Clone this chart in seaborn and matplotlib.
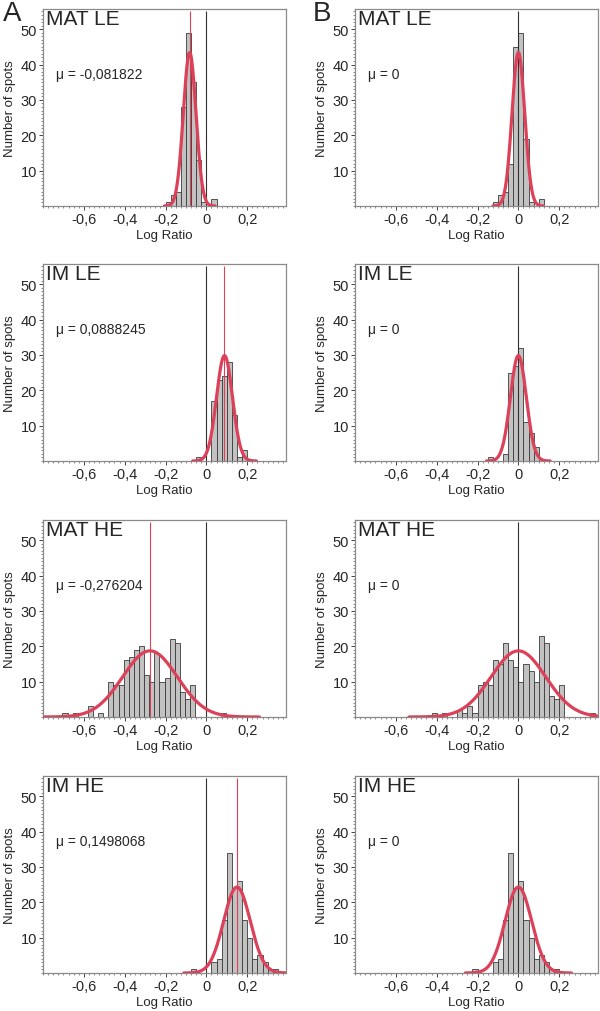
import numpy as np
import pandas as pd
import seaborn as sns
import matplotlib
matplotlib.use('Agg')
import matplotlib.pyplot as plt
from matplotlib.ticker import MultipleLocator, FuncFormatter

sns.set_style('ticks')
plt.rcParams['font.family'] = ['Liberation Sans', 'DejaVu Sans']

BIN_WIDTH = 0.025

titles = ['MAT LE', 'IM LE', 'MAT HE', 'IM HE']

# column A: raw log ratios, column B: centred on 0
mu_a = [-0.081822, 0.0888245, -0.276204, 0.1498068]
mu_a_text = ['-0,081822', '0,0888245', '-0,276204', '0,1498068']
mu_b = [0, 0, 0, 0]
mu_b_text = ['0', '0', '0', '0']

# fitted normal curves
sigma = [0.031, 0.039, 0.134, 0.065]
peak = [43.4, 29.8, 18.7, 24.3]

# histogram counts, left edge of the first bin
a_mat_le_start = -0.2
a_mat_le = [1, 3, 4, 28, 49, 35, 13, 1, 0, 2]
b_mat_le_start = -0.125
b_mat_le = [1, 3, 4, 12, 45, 49, 19, 1, 0, 2]

a_im_le_start = -0.05
a_im_le = [1, 0, 0, 17, 23, 24, 28, 13, 1, 3]
b_im_le_start = -0.15
b_im_le = [1, 0, 0, 2, 25, 27, 32, 11, 8, 4]

a_mat_he_start = -0.705
a_mat_he = [1, 0, 1, 0, 0, 3, 0, 1, 0, 10, 9, 9, 16, 17, 19, 20, 12, 10,
            18, 10, 11, 22, 21, 7, 5, 9, 0, 0, 0, 0, 0, 1]
b_mat_he_start = -0.425
b_mat_he = [1, 0, 1, 0, 0, 2, 1, 3, 1, 9, 10, 9, 16, 15, 21, 16, 14, 10,
            15, 13, 10, 23, 21, 6, 5, 9, 0, 0, 0, 0, 0, 1]

a_im_he_start = -0.075
a_im_he = [1, 0, 0, 0, 3, 4, 15, 34, 24, 26, 15, 10, 4, 5, 3, 1, 1]
b_im_he_start = -0.225
b_im_he = [1, 0, 0, 0, 3, 4, 15, 34, 24, 26, 15, 10, 4, 5, 3, 1, 1]

col_a = [(a_mat_le_start, a_mat_le), (a_im_le_start, a_im_le),
         (a_mat_he_start, a_mat_he), (a_im_he_start, a_im_he)]
col_b = [(b_mat_le_start, b_mat_le), (b_im_le_start, b_im_le),
         (b_mat_he_start, b_mat_he), (b_im_he_start, b_im_he)]

RED = '#dc4159'


def tick_fmt(v, pos):
    if abs(v) < 1e-9:
        return '0'
    return f'{v:.1f}'.replace('.', ',')


def draw_panel(ax, title, start, counts, mu, mu_text, sd, top):
    n_bins = len(counts)
    centers = start + BIN_WIDTH * (np.arange(n_bins) + 0.5)
    df = pd.DataFrame({'x': centers, 'n': counts})
    sns.histplot(data=df, x='x', weights='n', binwidth=BIN_WIDTH,
                 binrange=(start, start + BIN_WIDTH * n_bins), ax=ax,
                 color='#c2c2c2', edgecolor='#3a3a3a', linewidth=0.6,
                 alpha=1, zorder=1)
    ax.vlines(0, 0, 55, color='#303030', lw=0.8, zorder=2)
    if mu != 0:
        ax.vlines(mu, 0, 55, color=RED, lw=0.8, zorder=2)
    xs = np.linspace(mu - 4 * sd, mu + 4 * sd, 300)
    ys = top * np.exp(-0.5 * ((xs - mu) / sd) ** 2)
    sns.lineplot(x=xs, y=ys, ax=ax, color=RED, linewidth=2.3, zorder=3)

    ax.set_xlim(-0.8, 0.39)
    ax.set_ylim(0, 55.7)
    ax.set_yticks([10, 20, 30, 40, 50])
    ax.set_xticks([-0.6, -0.4, -0.2, 0, 0.2])
    ax.xaxis.set_major_formatter(FuncFormatter(tick_fmt))
    ax.xaxis.set_minor_locator(MultipleLocator(0.025))
    ax.yaxis.set_minor_locator(MultipleLocator(1))
    ax.tick_params(which='major', length=3, width=0.7, color='#444444',
                   labelsize=10.5, pad=1.5)
    ax.tick_params(which='minor', length=1.5, width=0.6, color='#777777')
    for sp in ax.spines.values():
        sp.set_visible(True)
        sp.set_color('#8a8a8a')
        sp.set_linewidth(0.9)

    ax.set_xlabel('Log Ratio', fontsize=9.5)
    ax.set_ylabel('Number of spots', fontsize=9.5)
    ax.xaxis.set_label_coords(0.5, -0.118)
    ax.yaxis.set_label_coords(-0.112, 0.5)

    ax.text(0.012, 0.998, title, transform=ax.transAxes, fontsize=15,
            va='top', ha='left')
    ax.text(0.053, 0.67, f'\u03bc = {mu_text}', transform=ax.transAxes,
            fontsize=10, va='center', ha='left')


fig = plt.figure(figsize=(6, 10.12), dpi=100)

lefts = [43 / 600, 355 / 600]
width = 243 / 600
bottoms = [207, 462, 718, 974]
height = 197 / 1012

for r in range(4):
    y0 = 1 - bottoms[r] / 1012
    ax = fig.add_axes([lefts[0], y0, width, height])
    s, c = col_a[r]
    draw_panel(ax, titles[r], s, c, mu_a[r], mu_a_text[r], sigma[r], peak[r])
    ax = fig.add_axes([lefts[1], y0, width, height])
    s, c = col_b[r]
    draw_panel(ax, titles[r], s, c, mu_b[r], mu_b_text[r], sigma[r], peak[r])

fig.text(0.005, 0.999, 'A', fontsize=20, va='top', ha='left')
fig.text(0.521, 0.999, 'B', fontsize=20, va='top', ha='left')

fig.savefig('out.png', dpi=100)
